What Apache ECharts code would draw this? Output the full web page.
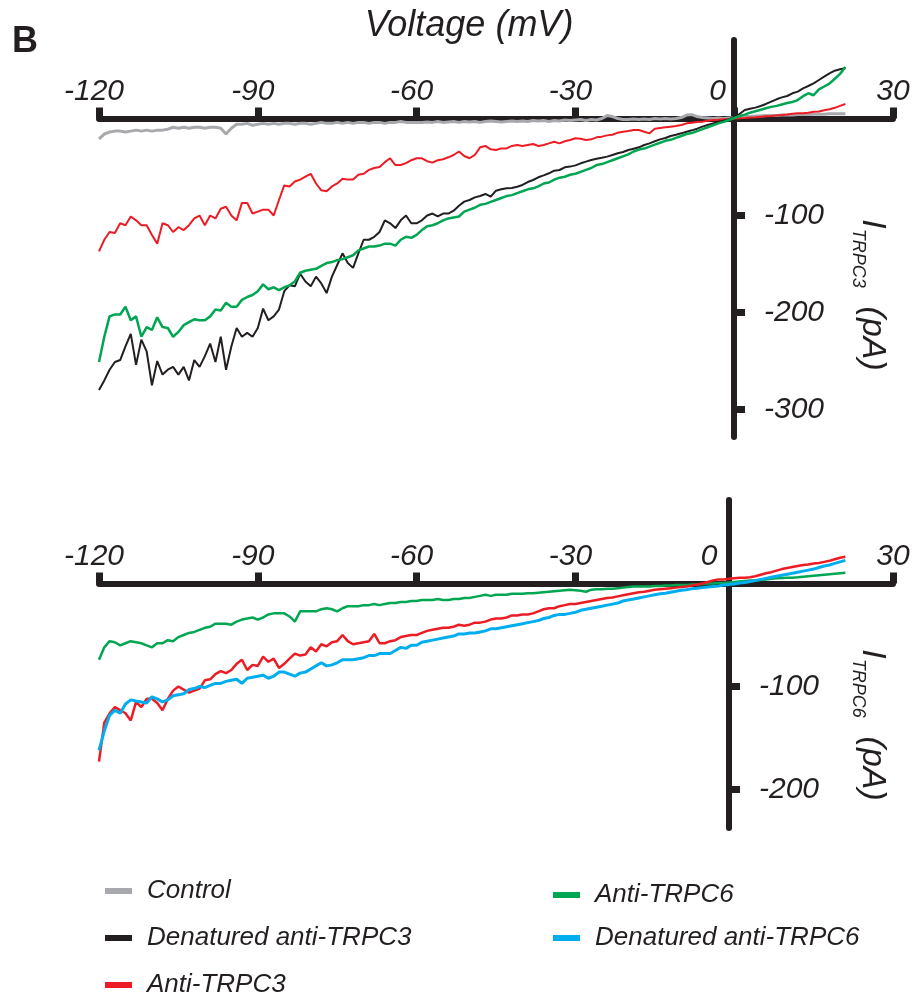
<!DOCTYPE html>
<html><head><meta charset="utf-8">
<script src="https://cdn.jsdelivr.net/npm/echarts@6/dist/echarts.min.js"></script>
<style>html,body{margin:0;padding:0;background:#fff}#c{width:915px;height:1000px}</style>
</head><body><div id="c"></div>
<script>
// Voltage sweep samples (mV)
const voltage = [-120,-119,-118,-117,-116,-115,-114,-113,-112,-111,-110,-109,-108,-107,-106,-105,-104,-103,-102,-101,
-100,-99,-98,-97,-96,-95,-94,-93,-92,-91,-90,-89,-88,-87,-86,-85,-84,-83,-82,-81,
-80,-79,-78,-77,-76,-75,-74,-73,-72,-71,-70,-69,-68,-67,-66,-65,-64,-63,-62,-61,
-60,-59,-58,-57,-56,-55,-54,-53,-52,-51,-50,-49,-48,-47,-46,-45,-44,-43,-42,-41,
-40,-39,-38,-37,-36,-35,-34,-33,-32,-31,-30,-29,-28,-27,-26,-25,-24,-23,-22,-21,
-20,-19,-18,-17,-16,-15,-14,-13,-12,-11,-10,-9,-8,-7,-6,-5,-4,-3,-2,-1,
0,1,2,3,4,5,6,7,8,9,10,11,12,13,14,15,16,17,18,19,20,21];
const xTicks = [-120,-90,-60,-30,0,30];
const xTicksBottom = [-120,-90,-60,-30,30];
const yTicksTop = [-100,-200,-300];
const yTicksBottom = [-100,-200];

// Top panel: I_TRPC3 (pA)
const topControl = [-21,-16,-14,-13,-13,-14,-13,-12,-13,-12,-13,-12,-12,-11,-9,-10,-9,-10,-9,-9,
-10,-9,-9,-10,-16,-10,-6,-6,-5,-7,-6,-5,-6,-5,-6,-5,-5,-6,-5,-5,
-6,-5,-4,-5,-5,-4,-5,-4,-5,-4,-4,-5,-4,-4,-5,-4,-4,-3,-4,-4,-4,
-4,-3.5,-4,-3,-4,-3.5,-3,-4,-3,-3.5,
-3,-4,-3,-2.5,-3,-3.5,-3,-2.5,-3,-2.5,
-3,-2,-2.5,-2,-3,-2,-2.5,-1.5,-2,-1.5,
-1,-2,-1,-1.5,0,3,2,0,-1,-1,
-0.5,-1,-0.5,-1,0,-0.5,0,-0.5,0,1,
3.5,4,2,1,0.5,0,0.5,0,0.5,1,
1.5,2,2,2.5,2.5,3,3,3,3.5,3.5,
3.5,4,4,4,4.5,4.5,4.5,5,5,5,5];
const topDenTRPC3 = [-280,-270,-259,-251,-249,-235,-222,-254,-228,-240,
-275,-250,-264,-259,-256,-264,-256,-270,-249,-256,
-245,-232,-251,-225,-259,-235,-216,-225,-221,-225,
-216,-196,-208,-204,-197,-178,-172,-173,-160,-168,
-173,-163,-170,-180,-163,-151,-139,-149,-154,-139,
-125,-125,-122,-117,-105,-108,-113,-105,-100,-108,
-108,-105,-100,-98,-101,-98,-98,-95,-90,
-85.7,-84,-81.3,-79.9,-77.8,-80.6,-74.4,-73,-72,-71.6,
-70.3,-68.5,-65.5,-63.4,-60.6,-58.6,-56.5,-53.8,-53.1,-50.3,
-49.6,-48.3,-46.2,-44.5,-42.8,-41.4,-40.4,-39.3,-37.6,-35.9,
-34.5,-32.5,-31.1,-29.7,-27.3,-25.6,-23.5,-21.5,-20.1,-18,
-16.7,-15.3,-13.6,-12.2,-10.5,-8.4,-6.7,-5,-3.6,-2.2,
-0.8,2,4.6,8.8,10.1,11.2,12.9,15,17.4,19.8,
21.8,23.2,26,27.7,31.1,33.5,36.2,39.7,43.1,46.6,
49.3,50.7,51.7];
const topAntiTRPC3 = [-137,-125,-117,-118,-108,-110,-101,-105,-110,-110,
-120,-129,-108,-110,-117,-112,-115,-110,-103,-100,
-110,-100,-103,-93,-91,-100,-105,-87,-87,-98,
-96,-94,-94,-100,-84,-69,-70,-65,-63,-60,
-57,-67,-74,-75,-70,-67,-62,-63,-63,-58,
-57,-53,-51,-50,-45,-41,-48,-48,-46,-43,
-41,-41,
-44,-45.5,-43,-42,-40,-37.6,-34,-38.7,-41,-37.6,
-29.7,-28.3,-31.8,-32.5,-30.8,-30.8,-28.3,-27.3,-28.3,-27.3,
-26.3,-28.3,-27.3,-25.6,-23.9,-25.6,-23.5,-22.2,-20.4,-20.8,
-22.2,-21.5,-19.4,-18.7,-17.4,-16.7,-14.6,-13.6,-12.9,-11.9,
-11.9,-13.6,-15.3,-10.5,-9.8,-9.1,-8.4,-7.7,-6.7,-5,
-4.3,-3.6,-3.3,-2.2,-1.5,-1.2,-0.8,-0.5,0,0.3,
0.6,1,1.3,1.8,2.2,2.5,3,3.5,4.2,5,
5.3,5.5,6,7,7.2,8.5,9.5,11,13,15];
const topAntiTRPC6 = [-251,-225,-204,-202,-202,-194,-208,-204,-225,-215,
-218,-205,-215,-216,-225,-220,-213,-210,-207,-208,
-208,-204,-197,-198,-190,-194,-194,-187,-184,-182,
-178,-171,-176,-174,-177,-174,-172,-168,-159,-157,
-156,-155,-152,-149,-148,-146,-145,-143,-141,-136,
-134,-132,-132,-131,-129,-129,-131,-125,-122,-123,
-120,-115,-111,-110,-108,-105,-103,-102,-101,
-96,-94,-92,-89,-88,-86,-84,-82,-80,-79,
-77,-75,-73,-72,-70,-67,-66,-63,-61,-60,
-58,-57,-55,-53,-51,-48,-47,-45,-43,-41,
-39,-37,-34,-32,-31,-29,-27,-25,-23,-22,
-20,-18,-16,-15,-13,-11,-9,-7,-5,-3.5,
-1.5,0.5,2.5,4,6,7.5,9,10.5,12,13,
14.5,16,17,19,23,26,24,30,33,36,
41,46,53];

// Bottom panel: I_TRPC6 (pA)
const botAntiTRPC6 = [-74,-62,-56,-57,-60,-58,-56,-57,-58,-60,
-62,-58,-58,-55,-56,-52,-50,-48,-47,-45,
-43,-42,-39,-39,-39,-40,-37,-35,-34,-33,
-35,-33,-30,-29,-29,-29,-32,-37,-27,-27,
-27,-27,-25,-24,-25,-27,-24,-22,-22,-22,
-21,-21,-20,-21,-20,-19,-19,-18,-18,-17,
-17,-16,
-16,-16,-15,-16,-16,-15,-15,-14,-14,-13,
-12,-11,-12,-11,-11,-11,-10,-10,-10,-9.5,
-9.5,-9,-8.5,-8,-7.5,-7,-6.5,-6,-6.5,-7,
-8,-6,-5.5,-5.5,-5,-5,-4.5,-4,-3.5,-3,
-3,-3,-3,-2.5,-2.5,-2,-2,-1.5,-1.5,-1.5,
-1,-1,-0.5,0,0,0.5,0.5,1,1.5,2,
2.5,3,3.2,3.5,4,4.5,5,5.3,5.5,5.7,
6,6.5,7,7.5,8,8.5,9,9.5,10,10.5];
const botAntiTRPC3 = [-173,-135,-126,-120,-123,-126,-133,-115,-120,-112,
-112,-116,-123,-112,-104,-100,-103,-106,-104,-102,
-94,-93,-88,-85,-87,-84,-78,-74,-84,-79,
-80,-71,-76,-73,-82,-78,-73,-68,-70,-69,
-62,-66,-59,-61,-57,-56,-50,-56,-59,-58,
-57,-56,-49,-58,-58,-56,-55,-52,-51,-50,
-50,-48,
-46,-45,-44,-43,-43,-42,-40,-41,-40,-38,
-38,-37,-35,-34,-34,-33,-31,-31,-30,-30,
-29,-27,-25,-24,-24,-22,-21,-20,-20,-19,
-18,-17,-16,-15,-14,-13.5,-12.5,-11.5,-10.5,-9.5,
-8.5,-8,-7,-6,-5.5,-5,-4.5,-4,-3.5,-3,
-2,-1,0,1.5,3,4,4,4.5,5,5.5,
5.5,6,7,8.5,10,11,12.5,14,15,16,
17,18,18.5,19.5,20,21,22,23.5,25,26];
const botDenTRPC6 = [-162,-143,-128,-123,-126,-117,-113,-114,-115,-116,
-110,-112,-115,-113,-109,-108,-107,-103,-102,-100,
-101,-99,-97,-97,-95,-94,-93,-97,-92,-91,
-90,-89,-92,-90,-86,-86,-88,-90,-87,-86,
-83,-80,-77,-80,-79,-77,-74,-74,-74,-73,
-72,-70,-70,-68,-68,-68,-65,-62,-63,-60,
-60,-57,
-56,-55,-54,-53,-52,-51,-49,-49,-48,-48,
-47,-46,-44,-44,-43,-42,-41,-40,-39,-38,
-37,-36,-34,-33,-31,-30,-30,-29,-28,-26,
-25,-24,-23,-22,-21,-20,-19,-17,-16,-15,
-14,-13,-12,-11,-10,-9.5,-8.5,-7.5,-6.5,-6,
-5,-4.5,-4,-3.5,-3,-2.5,-1.5,-1,-0.5,0.5,
1,2,3,4,5,6,7,8,9,10,
11,12,13,14,15.5,17,18,19.5,21,22.5];

const FONT = "'Liberation Sans', Arial, Helvetica, sans-serif";
const INK = '#231f20';
const COLORS = {
  'Control': '#a7a9ac',
  'Denatured anti-TRPC3': '#231f20',
  'Anti-TRPC3': '#ed1c24',
  'Anti-TRPC6': '#00a651',
  'Denatured anti-TRPC6': '#00aeef'
};

function pts(arr) { return voltage.map((v, i) => [v, arr[i]]); }
function mkSeries(name, arr, panel, width) {
  return {
    name, type: 'line', xAxisIndex: panel, yAxisIndex: panel,
    data: pts(arr), symbol: 'none', showSymbol: false, smooth: false,
    lineStyle: { color: COLORS[name], width: width },
    itemStyle: { color: COLORS[name] },
    emphasis: { disabled: true }, animation: false, clip: false
  };
}

// grid geometry (px) used to place axes at the zero crossing
const GRID_LEFT = 99, GRID_W = 794;
const TOP_GRID = { top: 40, height: 397, zeroY: 118.5, axisX: 734 };
const BOT_GRID = { top: 500, height: 328, zeroY: 583.5, axisX: 729 };

function xAxisDef(grid, zeroPad, offset, ticks) {
  return {
    type: 'value', gridIndex: grid, position: 'top', offset: offset, min: -120, max: 30, interval: 30,
    axisLine: { show: true, onZero: false, lineStyle: { color: INK, width: 6 } },
    axisTick: { show: true, length: 11, customValues: ticks, lineStyle: { color: INK, width: 7 } },
    splitLine: { show: false },
    axisLabel: {
      customValues: xTicks,
      margin: 12, color: INK, fontSize: 30, fontStyle: 'italic', fontFamily: FONT,
      formatter: function (v) {
        if (v < 0) return '-' + (-v) + '{h|-}';
        if (v === 0) return '0{h|' + zeroPad + '}';
        return String(v);
      },
      rich: { h: { color: 'rgba(0,0,0,0)', fontSize: 30, fontStyle: 'italic', fontFamily: FONT } }
    }
  };
}
function yAxisDef(grid, min, max, ticks, axisX) {
  return {
    type: 'value', gridIndex: grid, position: 'right', offset: -(GRID_LEFT + GRID_W - axisX), min: min, max: max,
    axisLine: { show: true, onZero: false, lineStyle: { color: INK, width: 6 } },
    axisTick: { show: true, length: 11, customValues: ticks, lineStyle: { color: INK, width: 7 } },
    splitLine: { show: false },
    axisLabel: { customValues: ticks, margin: 30, color: INK, fontSize: 30, fontStyle: 'italic', fontFamily: FONT }
  };
}
function yTitle(y, sub) {
  return {
    type: 'text', x: 872, y: y, rotation: -Math.PI / 2,
    style: {
      text: '{i|I}{s|' + sub + '}{i|  (pA)}',
      align: 'center', verticalAlign: 'middle', textAlign: 'center', textVerticalAlign: 'middle',
      fill: INK,
      rich: {
        i: { fontSize: 34, fontStyle: 'italic', fontFamily: FONT, lineHeight: 46, fill: INK, color: INK },
        s: { fontSize: 18, fontStyle: 'italic', fontFamily: FONT, verticalAlign: 'bottom', fill: INK, color: INK }
      }
    }
  };
}

const legendText = { fontSize: 26, fontStyle: 'italic', fontFamily: FONT, color: INK, lineHeight: 24, padding: [0, 0, 0, 10] };

const option = {
  backgroundColor: '#fff',
  animation: false,
  grid: [
    { left: GRID_LEFT, width: GRID_W, top: TOP_GRID.top, height: TOP_GRID.height, containLabel: false, outerBoundsMode: 'none' },
    { left: GRID_LEFT, width: GRID_W, top: BOT_GRID.top, height: BOT_GRID.height, containLabel: false, outerBoundsMode: 'none' }
  ],
  xAxis: [
    xAxisDef(0, '00', -(TOP_GRID.zeroY - TOP_GRID.top), xTicks),
    xAxisDef(1, '000', -(BOT_GRID.zeroY - BOT_GRID.top), xTicksBottom)
  ],
  yAxis: [
    yAxisDef(0, -328.35, 80.93, yTicksTop, TOP_GRID.axisX),
    yAxisDef(1, -237.38, 81.07, yTicksBottom, BOT_GRID.axisX)
  ],
  legend: [
    { data: ['Control', 'Denatured anti-TRPC3', 'Anti-TRPC3'], orient: 'vertical', left: 105, top: 878, height: 160, padding: 0,
      icon: 'rect', itemWidth: 27, itemHeight: 6, itemGap: 21, textStyle: legendText, selectedMode: false },
    { data: ['Anti-TRPC6', 'Denatured anti-TRPC6'], orient: 'vertical', left: 553, top: 882, height: 120, padding: 0,
      icon: 'rect', itemWidth: 27, itemHeight: 6, itemGap: 17, textStyle: legendText, selectedMode: false }
  ],
  graphic: [
    { type: 'text', x: 25, y: 42, style: { text: 'B', font: 'bold 36px ' + FONT, fill: INK, align: 'center', verticalAlign: 'middle', textAlign: 'center', textVerticalAlign: 'middle' } },
    { type: 'text', x: 469, y: 26, style: { text: 'Voltage (mV)', font: 'italic 36px ' + FONT, fill: INK, align: 'center', verticalAlign: 'middle', textAlign: 'center', textVerticalAlign: 'middle' } },
    yTitle(295, 'TRPC3'),
    yTitle(725, 'TRPC6')
  ],
  series: [
    mkSeries('Control', topControl, 0, 3),
    mkSeries('Anti-TRPC3', topAntiTRPC3, 0, 2),
    mkSeries('Denatured anti-TRPC3', topDenTRPC3, 0, 2),
    mkSeries('Anti-TRPC6', topAntiTRPC6, 0, 2.5),
    mkSeries('Anti-TRPC6', botAntiTRPC6, 1, 2.5),
    mkSeries('Anti-TRPC3', botAntiTRPC3, 1, 2.5),
    mkSeries('Denatured anti-TRPC6', botDenTRPC6, 1, 3)
  ]
};

const chart = echarts.init(document.getElementById('c'), null, { renderer: 'canvas' });
chart.setOption(option);
</script>
</body></html>
